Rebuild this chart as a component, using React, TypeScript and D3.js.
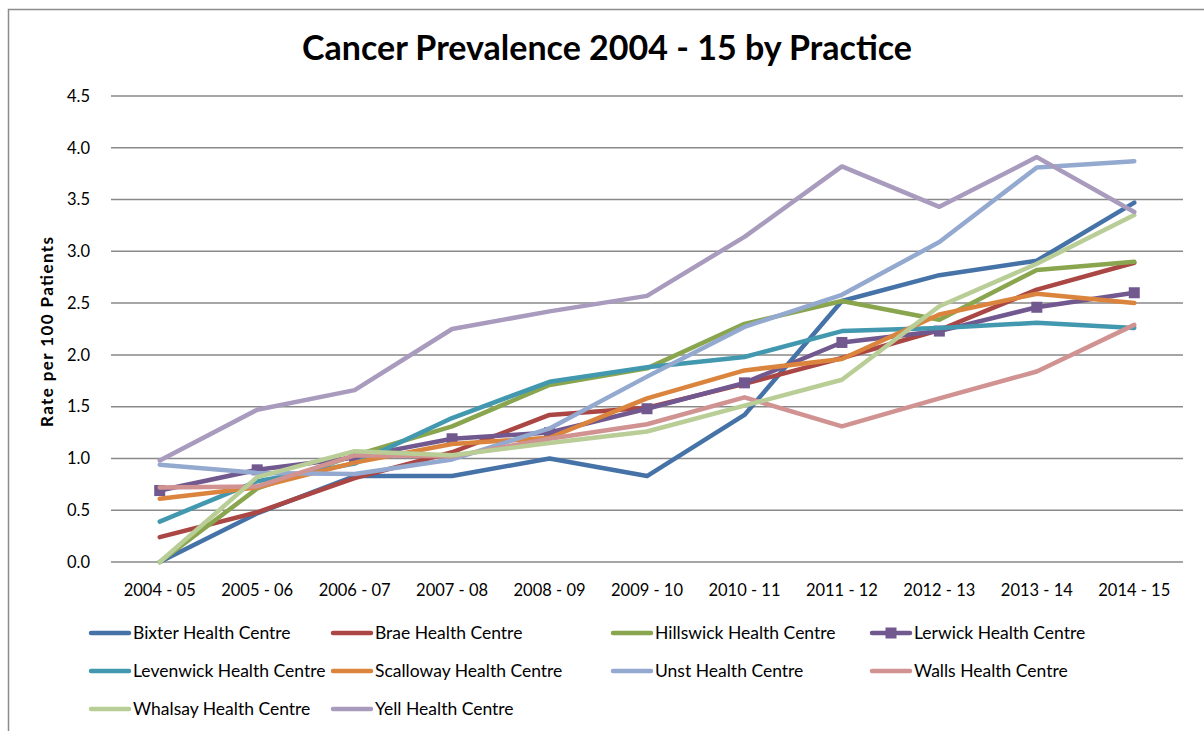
import React from "react";
import * as d3 from "d3";

const categories = ["2004 - 05", "2005 - 06", "2006 - 07", "2007 - 08", "2008 - 09", "2009 - 10", "2010 - 11", "2011 - 12", "2012 - 13", "2013 - 14", "2014 - 15"];
const yTicks = [0, 0.5, 1.0, 1.5, 2.0, 2.5, 3.0, 3.5, 4.0, 4.5];

const bixter = [0, 0.47, 0.83, 0.83, 1.0, 0.83, 1.42, 2.52, 2.77, 2.91, 3.47];
const brae = [0.24, 0.48, 0.81, 1.06, 1.42, 1.49, 1.72, 1.97, 2.24, 2.63, 2.89];
const hillswick = [0, 0.71, 1.03, 1.31, 1.71, 1.87, 2.3, 2.52, 2.34, 2.82, 2.9];
const lerwick = [0.69, 0.89, 1.01, 1.19, 1.25, 1.48, 1.73, 2.12, 2.23, 2.46, 2.6];
const levenwick = [0.39, 0.78, 0.95, 1.39, 1.74, 1.88, 1.98, 2.23, 2.26, 2.31, 2.26];
const scalloway = [0.61, 0.72, 0.96, 1.14, 1.2, 1.58, 1.85, 1.96, 2.39, 2.59, 2.5];
const unst = [0.94, 0.86, 0.85, 0.99, 1.29, 1.79, 2.27, 2.58, 3.09, 3.81, 3.87];
const walls = [0.72, 0.73, 1.03, 1.02, 1.19, 1.33, 1.59, 1.31, 1.58, 1.84, 2.29];
const whalsay = [0, 0.82, 1.07, 1.03, 1.15, 1.26, 1.51, 1.76, 2.47, 2.88, 3.35];
const yell = [0.98, 1.47, 1.66, 2.25, 2.42, 2.57, 3.14, 3.82, 3.43, 3.91, 3.38];

const seriesNames = ["Bixter Health Centre", "Brae Health Centre", "Hillswick Health Centre", "Lerwick Health Centre", "Levenwick Health Centre", "Scalloway Health Centre", "Unst Health Centre", "Walls Health Centre", "Whalsay Health Centre", "Yell Health Centre"];
const seriesValues = [bixter, brae, hillswick, lerwick, levenwick, scalloway, unst, walls, whalsay, yell];
const seriesColors = ["#4572A7", "#AA4643", "#89A54E", "#71588F", "#4198AF", "#DB843D", "#93A9CF", "#D19392", "#B9CD96", "#A99BBD"];
const markerSeries = ["Lerwick Health Centre"];

const FONT = "Lato, 'Open Sans', sans-serif";

export default function App() {
  const W = 1204, H = 731;
  const left = 111, right = 1183, top = 96, bottom = 562;
  const xBand = d3.scaleBand<string>().domain(categories).range([left, right]).padding(0);
  const xc = (c: string) => (xBand(c) as number) + xBand.bandwidth() / 2;
  const y = d3.scaleLinear().domain([0, 4.5]).range([bottom, top]);
  const line = d3.line<number>().x((_, i) => xc(categories[i])).y((d) => y(d));

  const legendCols = [91, 333, 613, 872];
  const legendRows = [633, 671, 709];

  return (
    <svg width={W} height={H} style={{ position: "absolute", left: 0, top: 0, background: "#fff" }} fontFamily={FONT}>
      <rect x={8.5} y={9.5} width={W} height={H} fill="#fff" stroke="#8c8c8c" strokeWidth={1.5} />
      <text x={607} y={60} textAnchor="middle" fontSize={34} fontWeight="bold" fill="#000">
        Cancer Prevalence 2004 - 15 by Practice
      </text>
      {yTicks.map((t) => (
        <g key={t}>
          <line x1={left} x2={right} y1={y(t)} y2={y(t)} stroke="#898989" strokeWidth={1.5} />
          <text x={90} y={y(t)} dy="0.35em" textAnchor="end" fontSize={16.5} fill="#000">
            {t.toFixed(1)}
          </text>
        </g>
      ))}
      {categories.map((c) => (
        <text key={c} x={xc(c)} y={596} textAnchor="middle" fontSize={16.5} fill="#000">
          {c}
        </text>
      ))}
      <text transform={`translate(53,332) rotate(-90)`} textAnchor="middle" fontSize={17} fontWeight="bold" fill="#000" textLength={190} lengthAdjust="spacing">
        Rate per 100 Patients
      </text>
      {seriesValues.map((vals, si) => (
        <g key={seriesNames[si]}>
          <path d={line(vals) || ""} fill="none" stroke={seriesColors[si]} strokeWidth={4.5} strokeLinejoin="round" strokeLinecap="round" />
          {markerSeries.includes(seriesNames[si]) &&
            vals.map((v, i) => (
              <rect key={i} x={xc(categories[i]) - 5.5} y={y(v) - 5.5} width={11} height={11} fill={seriesColors[si]} />
            ))}
        </g>
      ))}
      {seriesNames.map((name, si) => {
        const col = si % 4;
        const row = Math.floor(si / 4);
        const lx = legendCols[col];
        const ly = legendRows[row];
        return (
          <g key={name}>
            <line x1={lx} x2={lx + 38} y1={ly} y2={ly} stroke={seriesColors[si]} strokeWidth={4.5} strokeLinecap="round" />
            {markerSeries.includes(name) && (
              <rect x={lx + 19 - 5.5} y={ly - 5.5} width={11} height={11} fill={seriesColors[si]} />
            )}
            <text x={lx + 42} y={ly} dy="0.35em" fontSize={17.5} fill="#000">
              {name}
            </text>
          </g>
        );
      })}
    </svg>
  );
}
